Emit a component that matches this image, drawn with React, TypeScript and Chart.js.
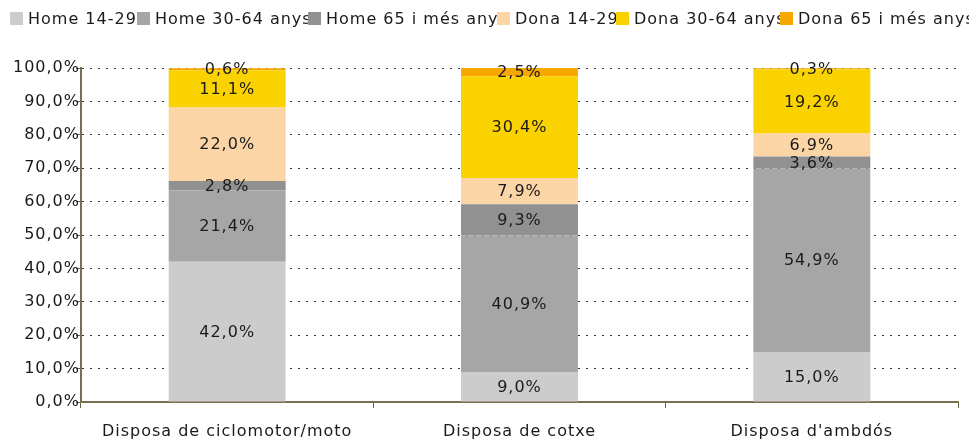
import React, { useEffect, useRef } from "react";
import { Chart, registerables } from "chart.js";

Chart.register(...registerables);

const categories = ["Disposa de ciclomotor/moto", "Disposa de cotxe", "Disposa d'ambdós"];
const seriesLabels = [
  "Home 14-29 anys",
  "Home 30-64 anys",
  "Home 65 i més anys",
  "Dona 14-29 anys",
  "Dona 30-64 anys",
  "Dona 65 i més anys",
];
const home1429 = [42.0, 9.0, 15.0];
const home3064 = [21.4, 40.9, 54.9];
const home65 = [2.8, 9.3, 3.6];
const dona1429 = [22.0, 7.9, 6.9];
const dona3064 = [11.1, 30.4, 19.2];
const dona65 = [0.6, 2.5, 0.3];
const seriesColors = ["#cccccc", "#a6a6a6", "#919191", "#fbd5a6", "#f9d200", "#f7a800"];

const FONT = "'DejaVu Sans', Verdana, sans-serif";
const SPACING = "1px";
const fmt = (v: number) => v.toFixed(1).replace(".", ",") + "%";

// legend layout (box left edges), drawn like the original with clipped texts
const LEGEND_X = [10, 137, 308, 497, 616, 780];
const LEGEND_BOX_TOP = 12;
const LEGEND_BOX = 13;

const spacingPlugin = {
  id: "spacing",
  beforeUpdate(chart: any) {
    chart.ctx.letterSpacing = SPACING;
  },
  beforeLayout(chart: any) {
    chart.ctx.letterSpacing = SPACING;
  },
  beforeDraw(chart: any) {
    chart.ctx.letterSpacing = SPACING;
  },
};

const valueLabels = {
  id: "valueLabels",
  afterDatasetsDraw(chart: any) {
    const ctx = chart.ctx;
    ctx.save();
    ctx.letterSpacing = SPACING;
    ctx.font = `16px ${FONT}`;
    ctx.fillStyle = "#1a1a1a";
    ctx.textAlign = "center";
    ctx.textBaseline = "middle";
    chart.data.datasets.forEach((ds: any, di: number) => {
      const meta = chart.getDatasetMeta(di);
      if (meta.hidden) return;
      meta.data.forEach((el: any, i: number) => {
        const p = el.getProps(["x", "y", "base"], true);
        ctx.fillText(fmt(ds.data[i]), p.x, (p.y + p.base) / 2 + 1);
      });
    });
    ctx.restore();
  },
};

const customLegend = {
  id: "customLegend",
  afterDraw(chart: any) {
    const ctx = chart.ctx;
    const W = chart.width;
    chart.data.datasets.forEach((ds: any, i: number) => {
      const x = LEGEND_X[i];
      const next = i + 1 < LEGEND_X.length ? LEGEND_X[i + 1] : W;
      ctx.save();
      ctx.beginPath();
      ctx.rect(x, 0, next - x, 40);
      ctx.clip();
      ctx.fillStyle = ds.backgroundColor;
      ctx.fillRect(x, LEGEND_BOX_TOP, LEGEND_BOX, LEGEND_BOX);
      ctx.letterSpacing = SPACING;
      ctx.font = `16px ${FONT}`;
      ctx.fillStyle = "#1a1a1a";
      ctx.textAlign = "left";
      ctx.textBaseline = "middle";
      ctx.fillText(ds.label, x + 18, LEGEND_BOX_TOP + LEGEND_BOX / 2 + 1);
      ctx.restore();
    });
  },
};

export default function App() {
  const ref = useRef<HTMLCanvasElement>(null);
  useEffect(() => {
    if (!ref.current) return;
    const data = [home1429, home3064, home65, dona1429, dona3064, dona65];
    const chart = new Chart(ref.current, {
      type: "bar",
      data: {
        labels: categories,
        datasets: data.map((d, i) => ({
          label: seriesLabels[i],
          data: d,
          backgroundColor: seriesColors[i],
          borderWidth: 0,
          barPercentage: 0.8,
          categoryPercentage: 0.5,
        })),
      },
      plugins: [spacingPlugin, valueLabels, customLegend],
      options: {
        animation: false,
        responsive: true,
        maintainAspectRatio: false,
        layout: { padding: { top: 68, right: 11, left: 0, bottom: 0 } },
        plugins: {
          legend: { display: false },
          tooltip: { enabled: false },
        },
        scales: {
          x: {
            stacked: true,
            grid: {
              drawOnChartArea: false,
              drawTicks: true,
              tickLength: 6,
              tickColor: "#6b6147",
              offset: true,
            },
            border: { color: "#7a6f52", width: 2 },
            ticks: {
              color: "#1a1a1a",
              padding: 14,
              font: { family: FONT, size: 16 },
              maxRotation: 0,
            },
            afterFit(scale: any) {
              scale.height = 42;
            },
          },
          y: {
            stacked: true,
            min: 0,
            max: 100,
            ticks: {
              stepSize: 10,
              color: "#1a1a1a",
              padding: -4,
              font: { family: FONT, size: 16 },
              callback: (v: any) => fmt(Number(v)),
            },
            grid: {
              color: "#333333",
              lineWidth: 1,
              tickLength: 5,
              tickColor: "#6b6147",
              tickBorderDash: [],
            },
            border: { color: "#7a6f52", width: 2, dash: [2, 6] },
            afterFit(scale: any) {
              scale.width = 81;
            },
          },
        },
      },
    });
    return () => chart.destroy();
  }, []);
  return (
    <div style={{ position: "absolute", left: 0, top: 0, width: 969, height: 444, background: "#fff" }}>
      <canvas ref={ref} />
    </div>
  );
}
